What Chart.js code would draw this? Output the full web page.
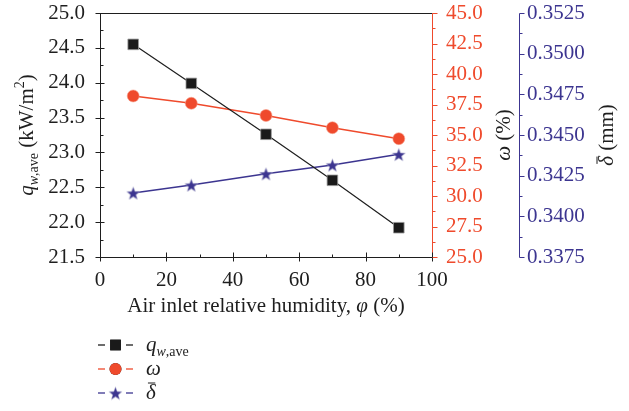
<!DOCTYPE html>
<html>
<head>
<meta charset="utf-8">
<script src="https://cdn.jsdelivr.net/npm/chart.js@4"></script>
<style>
  html, body { margin: 0; padding: 0; background: #fff; }
  #wrap { width: 629px; height: 411px; position: relative; }
</style>
</head>
<body>
<div id="wrap"><canvas id="humidityChart"></canvas></div>
<script>
// air inlet relative humidity (%)
const humidity = [10, 27.5, 50, 70, 90];
// average wall heat flux q_w,ave (kW/m2)
const heatFlux = [24.55, 23.99, 23.26, 22.60, 21.92];
// omega (%)
const omega = [38.2, 37.6, 36.6, 35.6, 34.7];
// mean film thickness (mm)
const thickness = [0.34144, 0.34193, 0.34262, 0.34316, 0.34381];

// axis ranges: [min, max, step]
const xRange = [0, 100, 20];
const fluxRange = [21.5, 25.0, 0.5];
const omegaRange = [25.0, 45.0, 2.5];
const thickRange = [0.3375, 0.3525, 0.0025];

const FONT = "'Liberation Serif', 'Times New Roman', serif";
const FS = 21;
const BLACK = '#1e1e1e';
const RED = '#ef4a2c';
const BLUE = '#3c3590';

function makeStar(size, color) {
  const c = document.createElement('canvas');
  c.width = size; c.height = size;
  const g = c.getContext('2d');
  const cx = size / 2, cy = size / 2 + size * 0.06;
  const R = size / 2 - 0.5, r = R * 0.42;
  g.beginPath();
  for (let i = 0; i < 10; i++) {
    const a = -Math.PI / 2 + i * Math.PI / 5;
    const rad = i % 2 ? r : R;
    g.lineTo(cx + rad * Math.cos(a), cy + rad * Math.sin(a));
  }
  g.closePath();
  g.fillStyle = color;
  g.fill();
  g.strokeStyle = 'rgba(200,200,220,0.8)';
  g.lineWidth = 0.6;
  g.stroke();
  return c;
}
const starIcon = makeStar(15, BLUE);

function points(ys) {
  return humidity.map((x, i) => ({ x: x, y: ys[i] }));
}

// text runs: {t, italic, size, dy}
function drawRuns(ctx, runs, x, y, angle) {
  ctx.save();
  ctx.translate(x, y);
  if (angle) ctx.rotate(angle);
  let total = 0;
  runs.forEach(r => {
    ctx.font = (r.italic ? 'italic ' : '') + (r.size || FS) + 'px ' + FONT;
    r.w = ctx.measureText(r.t).width;
    total += r.w;
  });
  let cx = -total / 2;
  ctx.textBaseline = 'alphabetic';
  ctx.textAlign = 'left';
  runs.forEach(r => {
    ctx.font = (r.italic ? 'italic ' : '') + (r.size || FS) + 'px ' + FONT;
    ctx.fillStyle = r.color || BLACK;
    ctx.fillText(r.t, cx, r.dy || 0);
    if (r.bar) {
      ctx.strokeStyle = r.color || BLACK;
      ctx.lineWidth = 1;
      ctx.beginPath();
      ctx.moveTo(cx + r.w * 0.2, -r.bar);
      ctx.lineTo(cx + r.w * 0.95, -r.bar);
      ctx.stroke();
    }
    cx += r.w;
  });
  ctx.restore();
}

function line(ctx, x1, y1, x2, y2, color) {
  ctx.strokeStyle = color;
  ctx.beginPath();
  ctx.moveTo(x1, y1);
  ctx.lineTo(x2, y2);
  ctx.stroke();
}

// axis lines, inner/outer ticks and minor ticks
const axisFrame = {
  id: 'axisFrame',
  beforeDatasetsDraw(chart) {
    const { ctx, chartArea: a, scales } = chart;
    ctx.save();
    ctx.lineWidth = 1;
    const L = Math.round(a.left) + 0.5, R = Math.round(a.right) + 0.5;
    const T = Math.round(a.top) + 0.5, B = Math.round(a.bottom) + 0.5;
    line(ctx, L, T, R, T, BLACK);
    line(ctx, L, T, L, B, BLACK);
    line(ctx, L, B, R, B, BLACK);
    line(ctx, R, T, R, B, RED);
    const y2x = Math.round(scales.y2.left) + 0.5;
    line(ctx, y2x, T, y2x, B, BLUE);

    const each = (range, fn) => {
      const [mn, mx, st] = range;
      const n = Math.round((mx - mn) / st);
      for (let i = 0; i <= n; i++) {
        fn(mn + i * st, true);
        if (i < n) fn(mn + (i + 0.5) * st, false);
      }
    };
    each(xRange, (v, major) => {
      const px = Math.round(scales.x.getPixelForValue(v)) + 0.5;
      if (major) line(ctx, px, B - 5, px, B + 4, BLACK);
      else line(ctx, px, B - 3, px, B, BLACK);
    });
    each(fluxRange, (v, major) => {
      const py = Math.round(scales.y.getPixelForValue(v)) + 0.5;
      if (major) line(ctx, L - 5, py, L + 4, py, BLACK);
      else line(ctx, L, py, L + 3, py, BLACK);
    });
    each(omegaRange, (v, major) => {
      const py = Math.round(scales.y1.getPixelForValue(v)) + 0.5;
      line(ctx, R, py, R + (major ? 5 : 3), py, RED);
    });
    each(thickRange, (v, major) => {
      const py = Math.round(scales.y2.getPixelForValue(v)) + 0.5;
      line(ctx, y2x, py, y2x + (major ? 5 : 3), py, BLUE);
    });
    ctx.restore();
  },
  afterDraw(chart) {
    const { ctx, chartArea: a } = chart;
    const midY = (a.top + a.bottom) / 2;
    // axis titles
    drawRuns(ctx, [
      { t: 'q', italic: true },
      { t: 'w', italic: true, size: 14, dy: 5 },
      { t: ',ave', size: 14, dy: 5 },
      { t: ' (kW/m' },
      { t: '2', size: 14, dy: -9 },
      { t: ')' }
    ], 33, midY, -Math.PI / 2);
    drawRuns(ctx, [{ t: 'ω', italic: true }, { t: ' (%)' }], 510, midY, -Math.PI / 2);
    drawRuns(ctx, [{ t: 'δ', italic: true, bar: 16 }, { t: ' (mm)' }], 613, midY, -Math.PI / 2);
    drawRuns(ctx, [
      { t: 'Air inlet relative humidity, ' },
      { t: 'φ', italic: true },
      { t: ' (%)' }
    ], (a.left + a.right) / 2, 312, 0);

    // legend
    const entries = [
      { ds: chart.data.datasets[0], y: 345, label: [{ t: 'q', italic: true }, { t: 'w', italic: true, size: 14, dy: 5 }, { t: ',ave', size: 14, dy: 5 }] },
      { ds: chart.data.datasets[1], y: 369, label: [{ t: 'ω', italic: true }] },
      { ds: chart.data.datasets[2], y: 393, label: [{ t: 'δ', italic: true, bar: 16 }] }
    ];
    ctx.save();
    entries.forEach(e => {
      const c = e.ds.borderColor;
      ctx.lineWidth = 1.3;
      line(ctx, 98, e.y, 105, e.y, c);
      line(ctx, 126, e.y, 133, e.y, c);
      Chart.helpers.drawPoint(ctx, {
        pointStyle: e.ds.pointStyle,
        radius: e.ds.pointRadius,
        borderWidth: 0
      }, 115.5, e.y);
      ctx.fillStyle = e.ds.pointBackgroundColor;
      ctx.fill();
      let w = 0;
      e.label.forEach(r => {
        ctx.font = (r.italic ? 'italic ' : '') + (r.size || FS) + 'px ' + FONT;
        w += ctx.measureText(r.t).width;
      });
      drawRuns(ctx, e.label, 146 + w / 2, e.y + 6, 0);
    });
    ctx.restore();
  }
};

// fixed axis box sizes, no extra label overhang padding
function fixWidth(w) {
  return scale => {
    scale.width = w;
    scale.paddingTop = 0;
    scale.paddingBottom = 0;
  };
}

const tickFont = { family: FONT, size: FS };

new Chart(document.getElementById('humidityChart'), {
  type: 'line',
  data: {
    datasets: [
      {
        label: 'q_w,ave',
        data: points(heatFlux),
        yAxisID: 'y',
        borderColor: BLACK,
        borderWidth: 1.2,
        pointStyle: 'rect',
        pointRadius: 7.5,
        pointBackgroundColor: '#1a1a1a',
        pointBorderColor: '#9a9a9a',
        pointBorderWidth: 0.8
      },
      {
        label: 'omega',
        data: points(omega),
        yAxisID: 'y1',
        borderColor: RED,
        borderWidth: 1.5,
        pointStyle: 'circle',
        pointRadius: 6,
        pointBackgroundColor: RED,
        pointBorderColor: '#f7a08c',
        pointBorderWidth: 0.6
      },
      {
        label: 'delta',
        data: points(thickness),
        yAxisID: 'y2',
        borderColor: BLUE,
        borderWidth: 1.5,
        pointStyle: starIcon,
        pointRadius: 7,
        pointBackgroundColor: BLUE
      }
    ]
  },
  options: {
    responsive: true,
    maintainAspectRatio: false,
    animation: false,
    events: [],
    layout: { padding: { top: 13, left: 0, right: 0, bottom: 0 } },
    plugins: { legend: { display: false }, tooltip: { enabled: false } },
    scales: {
      x: {
        type: 'linear',
        position: 'bottom',
        min: xRange[0], max: xRange[1],
        afterFit: scale => {
          scale.height = 154;
          scale.paddingLeft = 0;
          scale.paddingRight = 0;
        },
        grid: { display: false, drawTicks: false },
        border: { display: false },
        ticks: { stepSize: xRange[2], color: BLACK, font: tickFont, padding: 11, maxRotation: 0 }
      },
      y: {
        position: 'left',
        min: fluxRange[0], max: fluxRange[1],
        afterFit: fixWidth(100),
        grid: { display: false, drawTicks: false },
        border: { display: false },
        ticks: { stepSize: fluxRange[2], color: BLACK, font: tickFont, padding: 15,
          callback: v => v.toFixed(1) }
      },
      y1: {
        position: 'right',
        weight: 0,
        min: omegaRange[0], max: omegaRange[1],
        afterFit: fixWidth(87),
        grid: { display: false, drawTicks: false },
        border: { display: false },
        ticks: { stepSize: omegaRange[2], color: RED, font: tickFont, padding: 14,
          callback: v => v.toFixed(1) }
      },
      y2: {
        position: 'right',
        weight: 1,
        min: thickRange[0], max: thickRange[1],
        afterFit: fixWidth(110),
        grid: { display: false, drawTicks: false },
        border: { display: false },
        ticks: { stepSize: thickRange[2], color: BLUE, font: tickFont, padding: 8,
          callback: v => v.toFixed(4) }
      }
    }
  },
  plugins: [axisFrame]
});
</script>
</body>
</html>
